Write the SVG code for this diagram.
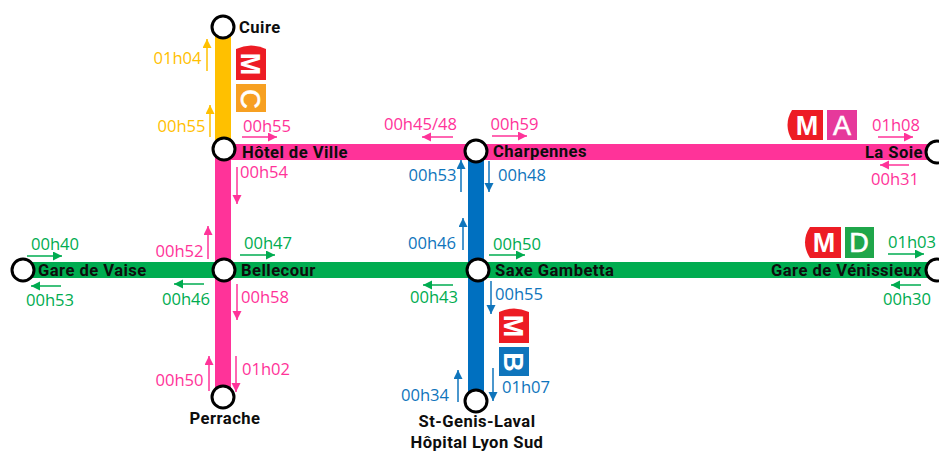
<svg xmlns="http://www.w3.org/2000/svg" width="939" height="452" viewBox="0 0 939 452">
<style>
.t{font-size:16.6px;text-anchor:middle;font-family:"Open Sans","Liberation Sans",sans-serif}
.n{font-size:16.6px;font-weight:700;letter-spacing:.45px;fill:#0d0d0d;font-family:"Roboto","Liberation Sans",sans-serif}
.st{fill:#fff;stroke:#000;stroke-width:3}
.a{fill:none;stroke-width:1.5}
.bt{font-size:27px;font-weight:700;fill:#fff;text-anchor:middle;font-family:"Liberation Sans",sans-serif}
.bl{font-size:27px;font-weight:400;fill:#fff;stroke:#fff;stroke-width:.6;text-anchor:middle;font-family:"Liberation Sans",sans-serif}
.y{fill:#ffc000}.p{fill:#ff3399}.b{fill:#0f75bc}.g{fill:#00ac50}
.ay{stroke:#ffc000}.ap{stroke:#ff3399}.ab{stroke:#0f75bc}.ag{stroke:#00ac50}
</style>
<defs>
<marker id="my" markerUnits="userSpaceOnUse" markerWidth="10" markerHeight="10" refX="9" refY="4.5" orient="auto"><path d="M0 0L9 4.5L0 9Z" fill="#ffc000"/></marker>
<marker id="mp" markerUnits="userSpaceOnUse" markerWidth="10" markerHeight="10" refX="9" refY="4.5" orient="auto"><path d="M0 0L9 4.5L0 9Z" fill="#ff3399"/></marker>
<marker id="mb" markerUnits="userSpaceOnUse" markerWidth="10" markerHeight="10" refX="9" refY="4.5" orient="auto"><path d="M0 0L9 4.5L0 9Z" fill="#0f75bc"/></marker>
<marker id="mg" markerUnits="userSpaceOnUse" markerWidth="10" markerHeight="10" refX="9" refY="4.5" orient="auto"><path d="M0 0L9 4.5L0 9Z" fill="#00ac50"/></marker>
</defs>
<g id="lines">
<rect x="215" y="27" width="16" height="122" fill="#ffc000"/>
<rect x="215" y="149" width="16" height="248" fill="#ff3399"/>
<rect x="223" y="144" width="716" height="16" fill="#ff3399"/>
<rect x="468" y="151" width="16" height="250" fill="#0070c0"/>
<rect x="23" y="262" width="916" height="16" fill="#00ac50"/>
</g>
<g id="connectors">
<path class="a ay" marker-end="url(#my)" d="M207 71V39"/>
<path class="a ay" marker-end="url(#my)" d="M210 137V105"/>
<path class="a ap" marker-end="url(#mp)" d="M242 137H277"/>
<path class="a ap" marker-end="url(#mp)" d="M237 167V204"/>
<path class="a ap" marker-end="url(#mp)" d="M208 259V226"/>
<path class="a ap" marker-end="url(#mp)" d="M237 284V320"/>
<path class="a ap" marker-end="url(#mp)" d="M209 391V356"/>
<path class="a ap" marker-end="url(#mp)" d="M236 356V392"/>
<path class="a ap" marker-end="url(#mp)" d="M453 137H422"/>
<path class="a ap" marker-end="url(#mp)" d="M492 136H527"/>
<path class="a ap" marker-end="url(#mp)" d="M878 137H913"/>
<path class="a ap" marker-end="url(#mp)" d="M909 165H880"/>
<path class="a ab" marker-end="url(#mb)" d="M461 192V160"/>
<path class="a ab" marker-end="url(#mb)" d="M489 161V192"/>
<path class="a ab" marker-end="url(#mb)" d="M463 250V218"/>
<path class="a ab" marker-end="url(#mb)" d="M491 281V314"/>
<path class="a ab" marker-end="url(#mb)" d="M458 402V370"/>
<path class="a ab" marker-end="url(#mb)" d="M493 368V401"/>
<path class="a ag" marker-end="url(#mg)" d="M27 256H62"/>
<path class="a ag" marker-end="url(#mg)" d="M61 286H31"/>
<path class="a ag" marker-end="url(#mg)" d="M240 255H275"/>
<path class="a ag" marker-end="url(#mg)" d="M204 284H174"/>
<path class="a ag" marker-end="url(#mg)" d="M489 255H525"/>
<path class="a ag" marker-end="url(#mg)" d="M453 285H423"/>
<path class="a ag" marker-end="url(#mg)" d="M888 254H924"/>
<path class="a ag" marker-end="url(#mg)" d="M921 285H891"/>
</g>
<g id="times">
<text class="t y" x="177.500" y="64">01h04</text>
<text class="t y" x="181.500" y="132">00h55</text>
<text class="t p" x="267" y="132">00h55</text>
<text class="t p" x="264" y="178">00h54</text>
<text class="t p" x="179.500" y="257">00h52</text>
<text class="t p" x="265" y="303">00h58</text>
<text class="t p" x="179.500" y="386">00h50</text>
<text class="t p" x="266" y="375">01h02</text>
<text class="t p" x="420.500" y="130">00h45/48</text>
<text class="t p" x="514.500" y="130">00h59</text>
<text class="t p" x="896" y="131">01h08</text>
<text class="t p" x="895" y="185">00h31</text>
<text class="t b" x="432.500" y="181">00h53</text>
<text class="t b" x="522" y="181">00h48</text>
<text class="t b" x="432" y="249">00h46</text>
<text class="t b" x="519" y="300">00h55</text>
<text class="t b" x="425" y="401">00h34</text>
<text class="t b" x="526" y="393">01h07</text>
<text class="t g" x="55" y="250">00h40</text>
<text class="t g" x="50" y="306">00h53</text>
<text class="t g" x="268" y="249">00h47</text>
<text class="t g" x="186" y="305">00h46</text>
<text class="t g" x="517" y="250">00h50</text>
<text class="t g" x="434" y="303">00h43</text>
<text class="t g" x="912" y="248">01h03</text>
<text class="t g" x="907" y="305">00h30</text>
</g>
<g id="badge-c">
<path d="M236 80V49Q251 42 266 49V80Z" fill="#ed1c24"/>
<rect x="236" y="84" width="30" height="28" fill="#f7a021"/>
<text class="bt" transform="translate(241 64) rotate(90)">M</text>
<text class="bl" transform="translate(241 99) rotate(90)">C</text>
</g>
<g id="badge-a">
<path d="M823 110V140H792Q783 125 792 110Z" fill="#ed1c24"/>
<rect x="827" y="110" width="30" height="30" fill="#e6399b"/>
<text class="bt" x="807" y="135">M</text>
<text class="bl" x="842" y="135">A</text>
</g>
<g id="badge-d">
<path d="M841 227V258H810Q800 242 810 227Z" fill="#ed1c24"/>
<rect x="845" y="227" width="29" height="31" fill="#1fa64a"/>
<text class="bt" x="824" y="252">M</text>
<text class="bl" x="859" y="252">D</text>
</g>
<g id="badge-b">
<path d="M499 343V312Q514 305 529 312V343Z" fill="#ed1c24"/>
<rect x="499" y="347" width="30" height="29" fill="#0f75bc"/>
<text class="bt" transform="translate(504 326) rotate(90)">M</text>
<text class="bt" transform="translate(504 362) rotate(90)">B</text>
</g>
<g id="cuire"><circle class="st" cx="223" cy="27" r="11"/><text class="n" x="239" y="33">Cuire</text></g>
<g id="hotel-de-ville"><circle class="st" cx="224" cy="149" r="11"/><text class="n" x="242" y="158">Hôtel de Ville</text></g>
<g id="charpennes"><circle class="st" cx="476" cy="151" r="11"/><text class="n" x="493" y="157">Charpennes</text></g>
<g id="la-soie"><circle class="st" cx="937" cy="152" r="11"/><text class="n" x="923" y="158" text-anchor="end">La Soie</text></g>
<g id="gare-de-vaise"><circle class="st" cx="23" cy="270" r="11"/><text class="n" x="38" y="276">Gare de Vaise</text></g>
<g id="bellecour"><circle class="st" cx="224" cy="270" r="11"/><text class="n" x="241" y="276">Bellecour</text></g>
<g id="saxe-gambetta"><circle class="st" cx="478" cy="270" r="11"/><text class="n" x="495" y="276">Saxe Gambetta</text></g>
<g id="gare-de-venissieux"><circle class="st" cx="937" cy="270" r="11"/><text class="n" x="922" y="276" text-anchor="end">Gare de Vénissieux</text></g>
<g id="perrache"><circle class="st" cx="223" cy="397" r="11"/><text class="n" x="225" y="424" text-anchor="middle">Perrache</text></g>
<g id="st-genis"><circle class="st" cx="476" cy="401" r="11"/><text class="n" x="477" y="427" text-anchor="middle">St-Genis-Laval</text><text class="n" x="477" y="447.500" text-anchor="middle">Hôpital Lyon Sud</text></g>
</svg>
